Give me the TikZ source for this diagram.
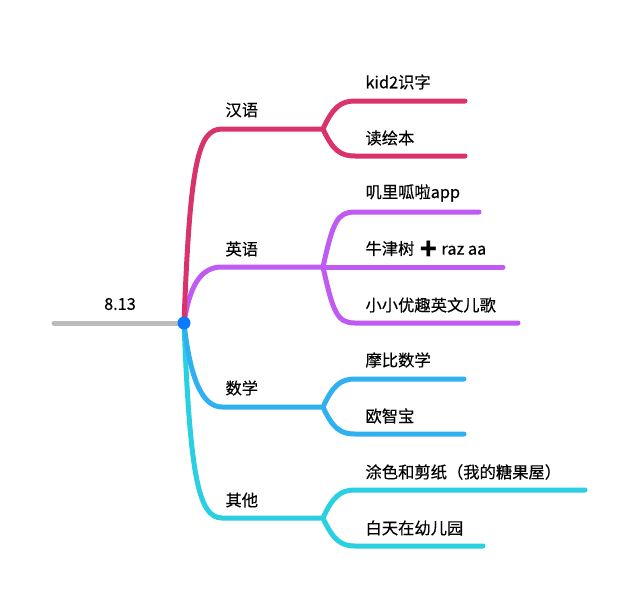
\documentclass[tikz,border=0pt]{standalone}
\usepackage{fontspec}
\setmainfont{Noto Sans CJK SC}[FakeBold=0.35]
\newfontfamily\emoji{Noto Emoji}
\definecolor{rootgray}{HTML}{BBBBBB}
\definecolor{dotblue}{HTML}{0A7AFF}
\definecolor{hyred}{HTML}{D9336B}
\definecolor{yypurple}{HTML}{BF5AF2}
\definecolor{sxblue}{HTML}{30B0F0}
\definecolor{qtcyan}{HTML}{2AD0E2}

\begin{document}
\begin{tikzpicture}[x=1pt,y=-1pt,line cap=round,line width=5pt]
      \tikzset{txt/.style={anchor=west,inner sep=0pt,font=\fontsize{16.3}{16}\selectfont}}
      \useasboundingbox (0,0) rectangle (640,602);
      % root
      \coordinate (r0) at (54,323);
      \coordinate (r) at (184,323);
      \node[anchor=center,inner sep=0pt,font=\fontsize{16.3}{16}\selectfont] (rt) at (120,304) {8.13};
      % branch forks
      \coordinate (h0) at (222,129); \coordinate (h) at (323,129);
      \coordinate (e0) at (222,267); \coordinate (e) at (323,267);
      \coordinate (s0) at (222,407); \coordinate (s) at (323,407);
      \coordinate (q0) at (222,518); \coordinate (q) at (323,518);
      % leaves
      \coordinate (h1) at (355,101); \coordinate (h1x) at (465,101);
      \coordinate (h2) at (355,156); \coordinate (h2x) at (465,156);
      \coordinate (e1) at (355,212); \coordinate (e1x) at (479,212);
      \coordinate (e2x) at (503,267);
      \coordinate (e3) at (355,323); \coordinate (e3x) at (518,323);
      \coordinate (s1) at (355,379); \coordinate (s1x) at (464,379);
      \coordinate (s2) at (355,434); \coordinate (s2x) at (464,434);
      \coordinate (q1) at (355,490); \coordinate (q1x) at (585,490);
      \coordinate (q2) at (355,546); \coordinate (q2x) at (483,546);

      \draw[rootgray] (r0) -- (r);
      \draw[qtcyan] (r) .. controls +(6,150) and +(-24,0) .. (q0) -- (q);
      \draw[sxblue] (r) .. controls +(6,55) and +(-20,0) .. (s0) -- (s);
      \draw[yypurple] (r) .. controls +(6,-40) and +(-20,0) .. (e0) -- (e);
      \draw[hyred] (r) .. controls +(6,-160) and +(-24,0) .. (h0) -- (h);

      \draw[hyred] (h) .. controls +(10,-22) and +(-14,0) .. (h1) -- (h1x);
      \draw[hyred] (h) .. controls +(10,22) and +(-14,0) .. (h2) -- (h2x);
      \draw[yypurple] (e) .. controls +(10,-45) and +(-18,0) .. (e1) -- (e1x);
      \draw[yypurple] (e) -- (e2x);
      \draw[yypurple] (e) .. controls +(10,45) and +(-18,0) .. (e3) -- (e3x);
      \draw[sxblue] (s) .. controls +(10,-22) and +(-14,0) .. (s1) -- (s1x);
      \draw[sxblue] (s) .. controls +(10,22) and +(-14,0) .. (s2) -- (s2x);
      \draw[qtcyan] (q) .. controls +(10,-22) and +(-14,0) .. (q1) -- (q1x);
      \draw[qtcyan] (q) .. controls +(10,22) and +(-14,0) .. (q2) -- (q2x);

      \fill[dotblue] (r) circle (6.5);

      \node[txt] (hy) at (223,110) {汉语};
      \node[txt] (yy) at (223,249) {英语};
      \node[txt] (sx) at (223,388) {数学};
      \node[txt] (qt) at (223,500) {其他};

      \node[txt] (hy1) at (363,82) {kid2识字};
      \node[txt] (hy2) at (363,138) {读绘本};
      \node[txt] (yy1) at (363,193) {叽里呱啦app};
      \node[txt] (yy2) at (363,249) {牛津树 {\emoji ➕}\,raz aa};
      \node[txt] (yy3) at (363,305) {小小优趣英文儿歌};
      \node[txt] (sx1) at (363,360) {摩比数学};
      \node[txt] (sx2) at (363,416) {欧智宝};
      \node[txt] (qt1) at (363,472) {涂色和剪纸（我的糖果屋）};
      \node[txt] (qt2) at (363,528) {白天在幼儿园};
\end{tikzpicture}
\end{document}
